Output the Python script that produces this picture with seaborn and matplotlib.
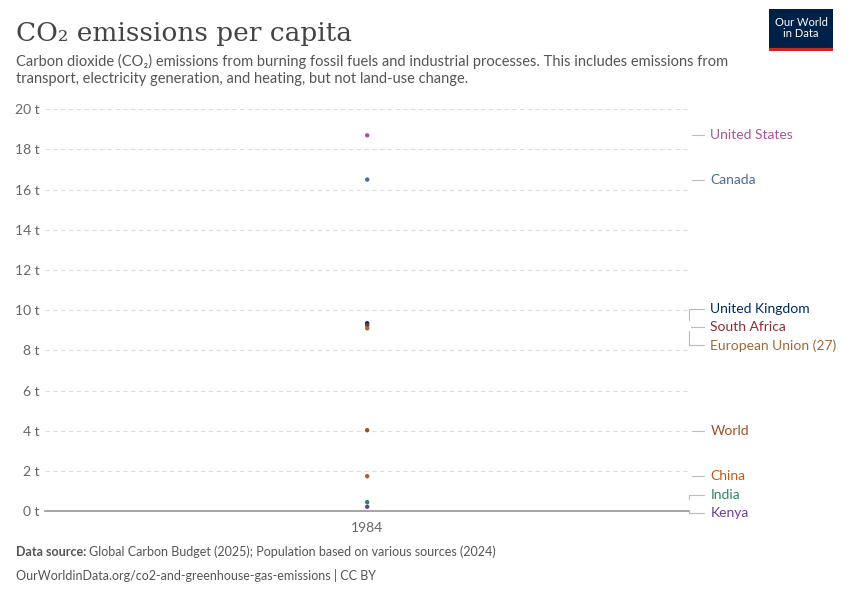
import pandas as pd
import matplotlib.pyplot as plt
import seaborn as sns

countries = ['United States', 'Canada', 'United Kingdom', 'South Africa',
             'European Union (27)', 'World', 'China', 'India', 'Kenya']
values = [18.7, 16.5, 9.35, 9.25, 9.1, 4.03, 1.74, 0.45, 0.22]
colors = ['#a2559c', '#4c6a9c', '#00295b', '#883039', '#9a6a3a',
          '#9e4f27', '#c05917', '#2c8465', '#6d3e91']
label_y = [18.7, 16.5, 10.05, 9.15, 8.25, 4.0, 1.75, 0.8, -0.1]
years = [1984] * len(countries)

df = pd.DataFrame({'Year': years, 'Country': countries, 'CO2': values})

sns.set_theme(style='white')
plt.rcParams['font.family'] = ['Lato', 'DejaVu Sans']

fig = plt.figure(figsize=(8.5, 6), dpi=100)
ax = fig.add_axes([0.053, 0.148, 0.758, 0.67])

sns.scatterplot(data=df, x='Year', y='CO2', hue='Country', palette=colors,
                s=10, edgecolor='none', legend=False, ax=ax, zorder=3)

ax.set_xlim(1983.5, 1984.5)
ax.set_ylim(0, 20)
ax.set_yticks(range(0, 21, 2))
ax.set_yticklabels([f'{v} t' for v in range(0, 21, 2)], color='#666666', fontsize=10)
ax.set_xticks([1984])
ax.set_xticklabels(['1984'], color='#666666', fontsize=10)
ax.tick_params(axis='y', length=0, pad=4)
ax.tick_params(axis='x', length=4, color='#999999')
for y in range(2, 21, 2):
    ax.axhline(y, color='#dddddd', lw=0.8, ls=(0, (4, 3)), zorder=1)
for s in ['top', 'right', 'left']:
    ax.spines[s].set_visible(False)
ax.spines['bottom'].set_color('#999999')
ax.set_xlabel('')
ax.set_ylabel('')

for c, v, ly, col in zip(countries, values, label_y, colors):
    ax.annotate(c, xy=(1.0, v), xycoords=('axes fraction', 'data'),
                xytext=(1.0325, ly), textcoords=('axes fraction', 'data'),
                color=col, fontsize=10, va='center', ha='left',
                arrowprops=dict(arrowstyle='-', color='#bbbbbb', lw=0.8,
                                shrinkA=2, shrinkB=2,
                                connectionstyle='angle,angleA=0,angleB=90,rad=0'),
                annotation_clip=False)

fig.text(0.019, 0.945, 'CO₂ emissions per capita', fontsize=19,
         family=['DejaVu Serif'], color='#444444', va='center')
fig.text(0.019, 0.883, 'Carbon dioxide (CO₂) emissions from burning fossil fuels and industrial processes. This includes emissions from\n'
         'transport, electricity generation, and heating, but not land-use change.',
         fontsize=10.5, color='#555555', va='center', linespacing=1.3)
fig.text(0.019, 0.073, 'Data source:', fontsize=9, color='#555555', weight='bold')
fig.text(0.105, 0.073, 'Global Carbon Budget (2025); Population based on various sources (2024)',
         fontsize=9, color='#555555')
fig.text(0.019, 0.033, 'OurWorldinData.org/co2-and-greenhouse-gas-emissions | CC BY',
         fontsize=9, color='#555555')

logo = fig.add_axes([0.905, 0.915, 0.075, 0.07])
logo.set_facecolor('#002147')
logo.set_xticks([]); logo.set_yticks([])
for s in logo.spines.values():
    s.set_visible(False)
logo.axhline(0.02, color='#ce261e', lw=3)
logo.text(0.5, 0.55, 'Our World\nin Data', color='white', ha='center', va='center',
          fontsize=8, linespacing=1.0, transform=logo.transAxes)

fig.savefig('out.png', dpi=100)
